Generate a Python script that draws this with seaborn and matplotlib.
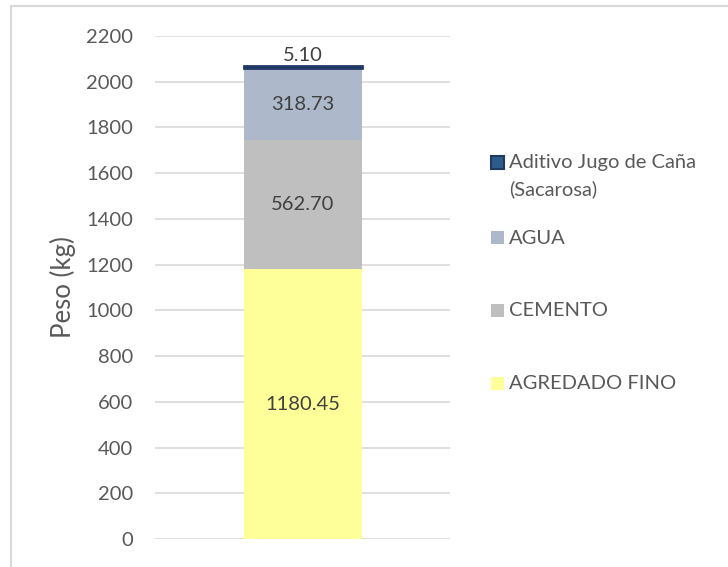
import matplotlib
matplotlib.use("Agg")
import matplotlib.pyplot as plt
import matplotlib.patches as mpatches
import seaborn as sns
import pandas as pd

# data (bottom to top)
components = ["AGREDADO FINO", "CEMENTO", "AGUA", "Aditivo Jugo de Caña\n(Sacarosa)"]
weights = [1180.45, 562.70, 318.73, 5.10]
colors = ["#FFFF99", "#BFBFBF", "#ADB9CA", "#1F4E79"]
edge_colors = ["none", "none", "none", "#1F3864"]
value_labels = ["1180.45", "562.70", "318.73", "5.10"]
y_ticks = list(range(0, 2201, 200))

sns.set_theme(style="white")
plt.rcParams["font.family"] = ["Lato", "DejaVu Sans"]
text_col = "#595959"

W, H = 728, 567
fig = plt.figure(figsize=(W / 100, H / 100), dpi=100)
ax = fig.add_axes([155 / W, 1 - 539 / H, 295 / W, 503 / H])

df = pd.DataFrame({"comp": components, "peso": weights})
bottom = 0
for i, row in df.iterrows():
    sns.barplot(x=[0], y=[row["peso"]], bottom=bottom, color=colors[i],
                width=0.4, ax=ax, edgecolor=edge_colors[i],
                linewidth=2 if edge_colors[i] != "none" else 0,
                saturation=1, zorder=3)
    if i < 3:
        ax.text(0, bottom + row["peso"] / 2, value_labels[i], ha="center",
                va="center", fontsize=14.5, color="#404040", zorder=4)
    else:
        ax.text(0, bottom + row["peso"] + 10, value_labels[i], ha="center",
                va="bottom", fontsize=14.5, color="#404040", zorder=4)
    bottom += row["peso"]

ax.set_xlim(-0.5, 0.5)
ax.set_ylim(0, 2200)
ax.set_yticks(y_ticks)
ax.set_xticks([])
ax.set_xlabel("")
ax.yaxis.grid(True, color="#D9D9D9", linewidth=1.2, zorder=0)
ax.set_axisbelow(True)
for s in ax.spines.values():
    s.set_visible(False)
ax.tick_params(axis="y", length=0, labelsize=14.5, labelcolor=text_col, pad=16)
ax.set_ylabel("Peso (kg)", fontsize=18.5, color=text_col)
ax.yaxis.label.set_va("center")
ax.yaxis.set_label_coords(-(155 - 63) / 295, 0.5)

# legend drawn by hand so the uneven Excel spacing can be kept
leg_y = [162, 238, 310, 383]
leg_faces = ["#2E5C8A", colors[2], colors[1], colors[0]]
leg_edges = ["#1F3864", "none", "none", "none"]
leg_labels = [components[3], components[2], components[1], components[0]]
for y, fc, ec, lab in zip(leg_y, leg_faces, leg_edges, leg_labels):
    fig.patches.append(mpatches.Rectangle((491 / W, 1 - (y + 6.5) / H), 13 / W, 13 / H,
                                          transform=fig.transFigure, facecolor=fc,
                                          edgecolor=ec, linewidth=1.5))
    fig.text(509 / W, 1 - (y - 8) / H, lab, ha="left", va="top", fontsize=14.5,
             color=text_col, linespacing=1.65)

# outer chart border
fig.patches.append(mpatches.Rectangle((10.5 / W, -0.05), 1.2, 1 - 5.5 / H + 0.05,
                                      transform=fig.transFigure, fill=False,
                                      edgecolor="#D9D9D9", linewidth=1.5))

fig.savefig("out.png", dpi=100)
